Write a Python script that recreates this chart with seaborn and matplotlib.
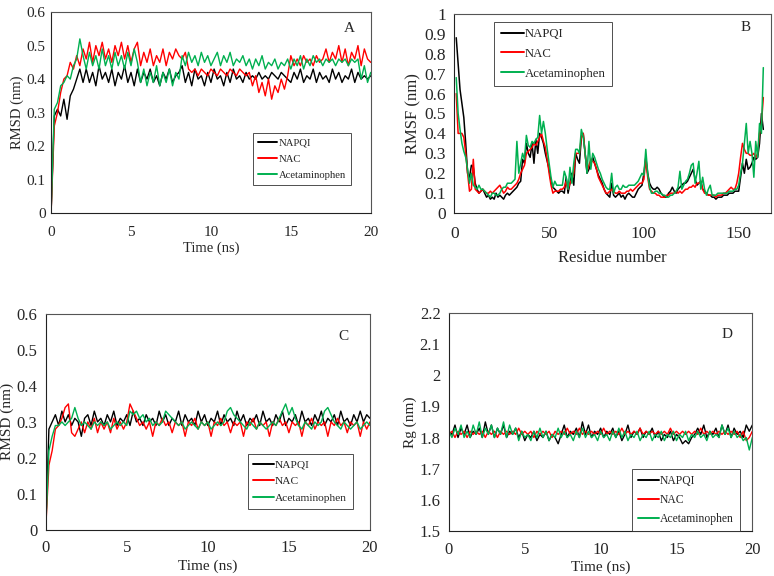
import numpy as np
import pandas as pd
import seaborn as sns
import matplotlib.pyplot as plt
from matplotlib.ticker import MultipleLocator, FuncFormatter

names = ["NAPQI", "NAC", "Acetaminophen"]
colors = ["#000000", "#FF0000", "#00B050"]

# time axis for the trajectories (ns), one frame every 0.2 ns
time_ns = [round(0.2 * i, 1) for i in range(101)]

# panel A: backbone RMSD (nm)
rmsd_a_napqi = [0.00, 0.29, 0.31, 0.29, 0.34, 0.28, 0.35, 0.37, 0.40, 0.43, 0.39,
                0.43, 0.39, 0.42, 0.38, 0.44, 0.40, 0.42, 0.39, 0.43, 0.38, 0.42, 0.40, 0.44, 0.39, 0.42, 0.38, 0.43,
                0.39, 0.42, 0.40, 0.43, 0.39, 0.41, 0.38, 0.42, 0.40, 0.43, 0.39, 0.41, 0.42,
                0.44, 0.39, 0.42, 0.38, 0.43, 0.40, 0.41, 0.38, 0.42, 0.39, 0.43, 0.40, 0.41, 0.38, 0.42, 0.39,
                0.43, 0.40, 0.41, 0.39, 0.42, 0.40,
                0.41, 0.40, 0.42, 0.40, 0.41, 0.40, 0.42, 0.41, 0.40, 0.42, 0.41, 0.40,
                0.39, 0.42, 0.40, 0.43, 0.39, 0.41, 0.40, 0.43, 0.39, 0.42, 0.40, 0.41, 0.39, 0.43, 0.40, 0.42,
                0.39, 0.41, 0.40, 0.43, 0.39, 0.42, 0.40, 0.41, 0.40, 0.41]
rmsd_a_nac = [0.00, 0.26, 0.30, 0.36, 0.40, 0.41, 0.45, 0.43, 0.47, 0.44, 0.49,
              0.46, 0.51, 0.45, 0.50, 0.47, 0.51, 0.46, 0.49, 0.45, 0.50, 0.47, 0.51, 0.46, 0.50, 0.45, 0.49, 0.51,
              0.44, 0.48, 0.45, 0.49, 0.44, 0.47, 0.45, 0.49, 0.44, 0.48, 0.46, 0.49, 0.47,
              0.46, 0.48, 0.43, 0.42, 0.43, 0.41, 0.43, 0.42, 0.41, 0.43, 0.42, 0.41, 0.43, 0.42, 0.41, 0.43,
              0.42, 0.41, 0.43, 0.42, 0.41, 0.42,
              0.38, 0.41, 0.36, 0.39, 0.35, 0.40, 0.34, 0.38, 0.36, 0.40, 0.37, 0.41,
              0.47, 0.44, 0.46, 0.44, 0.47, 0.45, 0.46, 0.44, 0.47, 0.45, 0.46, 0.49, 0.45, 0.48, 0.46, 0.50,
              0.45, 0.49, 0.44, 0.48, 0.46, 0.50, 0.44, 0.49, 0.46, 0.45]
rmsd_a_acet = [0.00, 0.31, 0.33, 0.38, 0.39, 0.41, 0.40, 0.44, 0.46, 0.52, 0.47,
               0.43, 0.48, 0.44, 0.47, 0.43, 0.49, 0.44, 0.47, 0.43, 0.48, 0.44, 0.47, 0.43, 0.48, 0.44, 0.49, 0.45,
               0.39, 0.43, 0.38, 0.42, 0.39, 0.44, 0.38, 0.42, 0.39, 0.43, 0.38, 0.42, 0.40,
               0.47, 0.44, 0.48, 0.45, 0.47, 0.44, 0.48, 0.45, 0.47, 0.44, 0.46, 0.48, 0.44, 0.47, 0.45, 0.48,
               0.44, 0.46, 0.45, 0.47, 0.44, 0.46,
               0.43, 0.46, 0.44, 0.47, 0.43, 0.45, 0.44, 0.46, 0.43, 0.45, 0.44, 0.46,
               0.43, 0.46, 0.44, 0.47, 0.43, 0.46, 0.44, 0.47, 0.45, 0.46, 0.44, 0.46, 0.45, 0.46, 0.44, 0.46,
               0.45, 0.46, 0.44, 0.46, 0.45, 0.46, 0.40, 0.44, 0.39, 0.42]

# panel B: per-residue RMSF (nm), residues 1..163
residue = list(range(1, 164))
rmsf_napqi = [0.88, 0.75, 0.62, 0.55, 0.48, 0.35, 0.20, 0.18, 0.24, 0.23,
              0.15, 0.12, 0.10, 0.11, 0.12, 0.10, 0.08, 0.09, 0.07, 0.08,
              0.07, 0.10, 0.08, 0.09, 0.08, 0.07, 0.09, 0.10, 0.09, 0.10,
              0.11, 0.12, 0.13, 0.15, 0.16, 0.27, 0.25, 0.35, 0.30, 0.28,
              0.35, 0.25, 0.37, 0.30, 0.40, 0.38, 0.35, 0.30, 0.26, 0.22,
              0.16, 0.13, 0.12, 0.11, 0.10, 0.11, 0.11, 0.10, 0.18, 0.10,
              0.15, 0.20, 0.14, 0.30, 0.27, 0.25, 0.38, 0.40, 0.30, 0.20,
              0.22, 0.25, 0.28, 0.25, 0.22, 0.19, 0.17, 0.15, 0.12, 0.10,
              0.09, 0.08, 0.15, 0.09, 0.08, 0.09, 0.10, 0.08, 0.09, 0.07,
              0.09, 0.10, 0.09, 0.08, 0.08, 0.10, 0.12, 0.13, 0.14, 0.20,
              0.28, 0.20, 0.15, 0.13, 0.12, 0.12, 0.13, 0.12, 0.10, 0.09,
              0.08, 0.08, 0.10, 0.11, 0.13, 0.11, 0.10, 0.12, 0.13, 0.14,
              0.15, 0.15, 0.16, 0.18, 0.20, 0.22, 0.17, 0.14, 0.15, 0.16,
              0.12, 0.11, 0.10, 0.09, 0.09, 0.08, 0.08, 0.07, 0.08, 0.08,
              0.08, 0.09, 0.09, 0.09, 0.10, 0.10, 0.10, 0.11, 0.11, 0.11,
              0.18, 0.25, 0.20, 0.27, 0.22, 0.23, 0.25, 0.28, 0.27, 0.28,
              0.35, 0.50, 0.42]
rmsf_nac = [0.60, 0.40, 0.40, 0.40, 0.38, 0.30, 0.20, 0.11, 0.12, 0.27,
            0.12, 0.11, 0.10, 0.11, 0.12, 0.11, 0.10, 0.10, 0.11, 0.10,
            0.11, 0.12, 0.13, 0.14, 0.12, 0.10, 0.11, 0.13, 0.12, 0.12,
            0.13, 0.14, 0.15, 0.17, 0.20, 0.22, 0.24, 0.30, 0.31, 0.32,
            0.33, 0.35, 0.34, 0.36, 0.38, 0.40, 0.36, 0.33, 0.27, 0.20,
            0.14, 0.10, 0.11, 0.11, 0.11, 0.12, 0.12, 0.13, 0.16, 0.12,
            0.15, 0.17, 0.20, 0.30, 0.30, 0.30, 0.38, 0.40, 0.30, 0.21,
            0.24, 0.27, 0.26, 0.25, 0.22, 0.18, 0.16, 0.14, 0.12, 0.10,
            0.10, 0.11, 0.12, 0.11, 0.10, 0.10, 0.11, 0.10, 0.10, 0.10,
            0.11, 0.11, 0.12, 0.11, 0.12, 0.13, 0.14, 0.15, 0.15, 0.17,
            0.27, 0.18, 0.12, 0.11, 0.10, 0.10, 0.09, 0.09, 0.08, 0.08,
            0.08, 0.09, 0.09, 0.10, 0.10, 0.10, 0.11, 0.10, 0.11, 0.10,
            0.11, 0.12, 0.12, 0.13, 0.13, 0.14, 0.13, 0.15, 0.15, 0.16,
            0.12, 0.10, 0.10, 0.09, 0.09, 0.09, 0.09, 0.08, 0.09, 0.09,
            0.09, 0.10, 0.10, 0.11, 0.12, 0.13, 0.12, 0.12, 0.15, 0.20,
            0.28, 0.35, 0.32, 0.30, 0.30, 0.29, 0.29, 0.30, 0.28, 0.30,
            0.40, 0.45, 0.58]
rmsf_acet = [0.68, 0.50, 0.42, 0.35, 0.31, 0.28, 0.22, 0.15, 0.20, 0.14,
             0.13, 0.12, 0.14, 0.12, 0.12, 0.11, 0.10, 0.09, 0.08, 0.10,
             0.10, 0.09, 0.09, 0.10, 0.12, 0.13, 0.13, 0.15, 0.15, 0.15,
             0.16, 0.17, 0.36, 0.20, 0.25, 0.30, 0.27, 0.39, 0.34, 0.33,
             0.36, 0.35, 0.37, 0.38, 0.49, 0.40, 0.46, 0.40, 0.32, 0.25,
             0.18, 0.13, 0.16, 0.14, 0.14, 0.14, 0.14, 0.21, 0.18, 0.12,
             0.23, 0.15, 0.25, 0.32, 0.32, 0.30, 0.42, 0.38, 0.30, 0.20,
             0.36, 0.22, 0.30, 0.28, 0.25, 0.22, 0.20, 0.17, 0.15, 0.13,
             0.12, 0.12, 0.20, 0.10, 0.13, 0.14, 0.12, 0.12, 0.14, 0.13,
             0.13, 0.14, 0.14, 0.14, 0.14, 0.15, 0.16, 0.18, 0.20, 0.19,
             0.32, 0.20, 0.13, 0.10, 0.10, 0.11, 0.11, 0.10, 0.10, 0.09,
             0.09, 0.08, 0.08, 0.09, 0.09, 0.10, 0.11, 0.13, 0.21, 0.12,
             0.14, 0.16, 0.17, 0.20, 0.24, 0.25, 0.15, 0.20, 0.26, 0.12,
             0.18, 0.12, 0.09, 0.12, 0.14, 0.09, 0.09, 0.09, 0.10, 0.10,
             0.10, 0.10, 0.10, 0.10, 0.11, 0.11, 0.11, 0.12, 0.12, 0.14,
             0.20, 0.25, 0.35, 0.45, 0.30, 0.36, 0.30, 0.18, 0.36, 0.28,
             0.45, 0.40, 0.73]

# panel C: ligand RMSD (nm)
rmsd_c_napqi = [0.00, 0.28, 0.30, 0.32, 0.29, 0.33, 0.30, 0.32, 0.29, 0.31, 0.30, 0.26, 0.31,
                0.32, 0.29, 0.33, 0.30, 0.31, 0.29, 0.32, 0.30, 0.33, 0.29,
                0.31, 0.30, 0.32, 0.29, 0.33, 0.30, 0.31, 0.29, 0.32, 0.30,
                0.31, 0.29, 0.33, 0.30, 0.32, 0.29, 0.31, 0.30, 0.33, 0.29,
                0.32, 0.30, 0.31, 0.29, 0.33, 0.30, 0.32, 0.29, 0.31, 0.30,
                0.33, 0.29, 0.32, 0.30, 0.31, 0.29, 0.33, 0.30, 0.32, 0.29,
                0.31, 0.30, 0.32, 0.29, 0.33, 0.30, 0.31, 0.29, 0.32, 0.30,
                0.33, 0.29, 0.31, 0.30, 0.32, 0.29, 0.33, 0.30, 0.31, 0.29,
                0.32, 0.30, 0.33, 0.29, 0.31, 0.30, 0.32, 0.29, 0.33, 0.30,
                0.31, 0.29, 0.32, 0.30, 0.33, 0.30, 0.32, 0.31]
rmsd_c_nac = [0.00, 0.18, 0.22, 0.28, 0.29, 0.31, 0.34, 0.35, 0.27, 0.26, 0.28,
              0.30, 0.27, 0.30, 0.28, 0.31, 0.27, 0.30, 0.28, 0.30, 0.27, 0.31, 0.28, 0.30, 0.28,
              0.30, 0.35, 0.33, 0.31,
              0.29, 0.30, 0.28, 0.30, 0.26, 0.30, 0.29, 0.31, 0.29, 0.30,
              0.27, 0.30, 0.29, 0.30, 0.26, 0.30, 0.29, 0.31, 0.28, 0.30,
              0.29, 0.30, 0.26, 0.30, 0.29, 0.31, 0.29, 0.30, 0.27, 0.30,
              0.29, 0.30, 0.26, 0.30, 0.29, 0.31, 0.28, 0.30, 0.29, 0.30,
              0.26, 0.30, 0.29, 0.31, 0.29, 0.30, 0.27, 0.30, 0.29, 0.30,
              0.26, 0.30, 0.29, 0.31, 0.28, 0.30, 0.29, 0.30, 0.26, 0.30,
              0.29, 0.31, 0.29, 0.30, 0.27, 0.30, 0.29, 0.30, 0.26, 0.30,
              0.28, 0.30]
rmsd_c_acet = [0.00, 0.22, 0.26, 0.29, 0.29, 0.30, 0.29, 0.30, 0.31, 0.34, 0.31,
               0.29, 0.30, 0.29, 0.28, 0.30, 0.29, 0.30, 0.29, 0.30, 0.28, 0.29, 0.30, 0.29, 0.30, 0.29,
               0.33, 0.32, 0.33, 0.31, 0.32, 0.30, 0.31, 0.29, 0.30, 0.29, 0.30, 0.33, 0.32, 0.31, 0.30,
               0.29, 0.30, 0.28, 0.29, 0.30, 0.29, 0.28, 0.30, 0.29, 0.30, 0.28, 0.29, 0.30, 0.29,
               0.30, 0.33, 0.34, 0.32, 0.31, 0.30,
               0.29, 0.28, 0.30, 0.29, 0.28, 0.30, 0.29, 0.28, 0.29, 0.30, 0.29,
               0.31, 0.33, 0.35, 0.32, 0.34, 0.31, 0.29,
               0.28, 0.30, 0.29, 0.28, 0.30, 0.29, 0.30,
               0.33, 0.34, 0.32, 0.30,
               0.29, 0.28, 0.30, 0.29, 0.28, 0.29, 0.30, 0.28, 0.29, 0.30, 0.29]

# panel D: radius of gyration (nm)
rg_napqi = [1.82, 1.81, 1.84, 1.80, 1.83, 1.81, 1.84, 1.80, 1.82, 1.81,
            1.83, 1.80, 1.85, 1.81, 1.84, 1.80, 1.83, 1.81, 1.84, 1.80,
            1.82, 1.81, 1.83, 1.80, 1.82, 1.79, 1.81, 1.80, 1.82, 1.79,
            1.81, 1.80, 1.82, 1.79, 1.81, 1.80, 1.78, 1.81, 1.84, 1.80,
            1.82, 1.81, 1.83, 1.80, 1.85, 1.81, 1.84, 1.80, 1.82, 1.81,
            1.83, 1.80, 1.82, 1.81, 1.83, 1.80, 1.82, 1.79, 1.81, 1.84,
            1.80, 1.82, 1.81, 1.83, 1.80, 1.82, 1.81, 1.83, 1.80, 1.82,
            1.79, 1.81, 1.80, 1.82, 1.79, 1.81, 1.80, 1.78, 1.79, 1.78,
            1.80, 1.81, 1.83, 1.81, 1.84, 1.80, 1.82, 1.81, 1.83, 1.80,
            1.84, 1.81, 1.84, 1.80, 1.83, 1.81, 1.82, 1.80, 1.84, 1.82, 1.84]
rg_nac = [1.81, 1.82, 1.80, 1.82, 1.81, 1.82, 1.80, 1.82, 1.81, 1.82,
          1.81, 1.82, 1.80, 1.82, 1.81, 1.82, 1.80, 1.82, 1.81, 1.82,
          1.81, 1.82, 1.81, 1.83, 1.81, 1.82, 1.81, 1.82, 1.80, 1.82,
          1.81, 1.82, 1.81, 1.82, 1.80, 1.82, 1.81, 1.82, 1.81, 1.83,
          1.81, 1.82, 1.81, 1.83, 1.81, 1.82, 1.81, 1.82, 1.81, 1.82,
          1.81, 1.83, 1.81, 1.82, 1.81, 1.82, 1.81, 1.83, 1.81, 1.82,
          1.81, 1.82, 1.81, 1.83, 1.81, 1.82, 1.81, 1.82, 1.81, 1.82,
          1.81, 1.82, 1.81, 1.83, 1.81, 1.82, 1.81, 1.82, 1.81, 1.82,
          1.81, 1.82, 1.81, 1.83, 1.81, 1.82, 1.81, 1.82, 1.81, 1.82,
          1.81, 1.82, 1.81, 1.82, 1.81, 1.82, 1.80, 1.82, 1.79, 1.80, 1.82]
rg_acet = [1.82, 1.80, 1.83, 1.81, 1.84, 1.80, 1.82, 1.80, 1.84, 1.81,
           1.85, 1.80, 1.83, 1.81, 1.84, 1.80, 1.83, 1.81, 1.85, 1.80,
           1.84, 1.81, 1.83, 1.79, 1.82, 1.80, 1.81, 1.79, 1.82, 1.80,
           1.83, 1.80, 1.82, 1.79, 1.81, 1.80, 1.83, 1.80, 1.82, 1.80,
           1.81, 1.79, 1.82, 1.80, 1.83, 1.80, 1.82, 1.80, 1.81, 1.79,
           1.82, 1.80, 1.81, 1.79, 1.82, 1.80, 1.83, 1.80, 1.82, 1.79,
           1.81, 1.80, 1.82, 1.79, 1.81, 1.80, 1.82, 1.79, 1.81, 1.80,
           1.82, 1.79, 1.81, 1.80, 1.82, 1.79, 1.81, 1.80, 1.82, 1.79,
           1.81, 1.80, 1.82, 1.80, 1.81, 1.79, 1.82, 1.80, 1.81, 1.80,
           1.84, 1.81, 1.83, 1.80, 1.82, 1.80, 1.81, 1.79, 1.80, 1.76, 1.80]

sns.set_style("white")
plt.rcParams["font.family"] = ["Liberation Serif", "DejaVu Serif"]

fig = plt.figure(figsize=(7.74, 5.76), dpi=100)
axA = fig.add_axes([0.066, 0.630, 0.413, 0.349])
axB = fig.add_axes([0.587, 0.630, 0.409, 0.346])
axC = fig.add_axes([0.059, 0.080, 0.419, 0.375])
axD = fig.add_axes([0.580, 0.078, 0.392, 0.379])

fmt = FuncFormatter(lambda v, p: "%g" % round(v, 3))


def draw(ax, x, series, lw=1.0):
    for ys, name, col in zip(series, names, colors):
        df = pd.DataFrame({"x": x, "y": ys})
        sns.lineplot(data=df, x="x", y="y", color=col, lw=lw, label=name,
                     ax=ax, sort=False, estimator=None)


def style(ax, legend_xy, leg_fs, letter, letter_xy):
    for s in ["left", "bottom"]:
        ax.spines[s].set_color("#222222")
    for s in ["top", "right"]:
        ax.spines[s].set_color("#555555")
    for s in ax.spines.values():
        s.set_linewidth(0.8)
    ax.yaxis.set_major_formatter(fmt)
    ax.xaxis.set_major_formatter(fmt)
    leg = ax.legend(loc="upper left", bbox_to_anchor=legend_xy, borderaxespad=0,
                    fontsize=leg_fs, frameon=True, fancybox=False,
                    handlelength=1.8, handletextpad=0.1, labelspacing=0.6,
                    borderpad=0.5)
    leg.get_frame().set_edgecolor("#222222")
    leg.get_frame().set_linewidth(0.7)
    for h in leg.get_lines():
        h.set_linewidth(1.4)
    ax.text(letter_xy[0], letter_xy[1], letter, transform=ax.transAxes,
            ha="center", va="center", fontsize=11)


# A
draw(axA, time_ns, [rmsd_a_napqi, rmsd_a_nac, rmsd_a_acet])
axA.set_xlim(0, 20)
axA.set_ylim(0, 0.6)
axA.xaxis.set_major_locator(MultipleLocator(5))
axA.xaxis.set_minor_locator(MultipleLocator(1))
axA.yaxis.set_major_locator(MultipleLocator(0.1))
axA.tick_params(which="major", axis="y", direction="in", length=4, width=0.7, labelsize=11, pad=4)
axA.tick_params(which="major", axis="x", direction="in", length=4, width=0.7, labelsize=11, pad=9)
axA.tick_params(which="minor", axis="x", direction="in", length=3, width=0.7)
axA.set_xlabel("Time (ns)", fontsize=10.5, labelpad=2)
axA.set_ylabel("RMSD (nm)", fontsize=10.5, labelpad=2)
style(axA, (0.631, 0.398), 7.7, "A", (0.934, 0.92))

# B
draw(axB, residue, [rmsf_napqi, rmsf_nac, rmsf_acet], lw=1.1)
axB.set_xlim(0, 167)
axB.set_ylim(0, 1)
axB.xaxis.set_major_locator(MultipleLocator(50))
axB.xaxis.set_minor_locator(MultipleLocator(10))
axB.yaxis.set_major_locator(MultipleLocator(0.1))
axB.tick_params(which="major", axis="y", direction="inout", length=6, width=0.7, labelsize=12.5, pad=3)
axB.tick_params(which="major", axis="x", direction="in", length=4, width=0.7, labelsize=12.5, pad=9)
axB.tick_params(which="minor", axis="x", direction="in", length=3, width=0.7)
axB.set_xlabel("Residue number", fontsize=12, labelpad=6)
axB.set_ylabel("RMSF (nm)", fontsize=12, labelpad=2)
style(axB, (0.126, 0.960), 9.2, "B", (0.921, 0.93))

# C
draw(axC, time_ns, [rmsd_c_napqi, rmsd_c_nac, rmsd_c_acet])
axC.set_xlim(0, 20)
axC.set_ylim(0, 0.6)
axC.xaxis.set_major_locator(MultipleLocator(5))
axC.xaxis.set_minor_locator(MultipleLocator(0.5))
axC.yaxis.set_major_locator(MultipleLocator(0.1))
axC.tick_params(which="major", axis="y", direction="inout", length=6, width=0.7, labelsize=12, pad=3)
axC.tick_params(which="major", axis="x", direction="inout", length=6, width=0.7, labelsize=12, pad=4)
axC.tick_params(which="minor", axis="x", direction="in", length=3, width=0.7)
axC.set_xlabel("Time (ns)", fontsize=11, labelpad=3)
axC.set_ylabel("RMSD (nm)", fontsize=11, labelpad=2)
style(axC, (0.623, 0.352), 8.2, "C", (0.917, 0.894))

# D
draw(axD, time_ns, [rg_napqi, rg_nac, rg_acet])
axD.set_xlim(0, 20)
axD.set_ylim(1.5, 2.2)
axD.xaxis.set_major_locator(MultipleLocator(5))
axD.yaxis.set_major_locator(MultipleLocator(0.1))
axD.yaxis.set_minor_locator(MultipleLocator(0.01))
axD.tick_params(which="major", axis="y", direction="inout", length=6, width=0.7, labelsize=12, pad=3)
axD.tick_params(which="minor", axis="y", direction="inout", length=3, width=0.5)
axD.tick_params(which="major", axis="x", length=0, labelsize=12, pad=8)
axD.set_xlabel("Time (ns)", fontsize=11, labelpad=2)
axD.set_ylabel("Rg (nm)", fontsize=11, labelpad=2)
style(axD, (0.604, 0.284), 8.4, "D", (0.917, 0.90))

fig.savefig("out.png", dpi=100)
